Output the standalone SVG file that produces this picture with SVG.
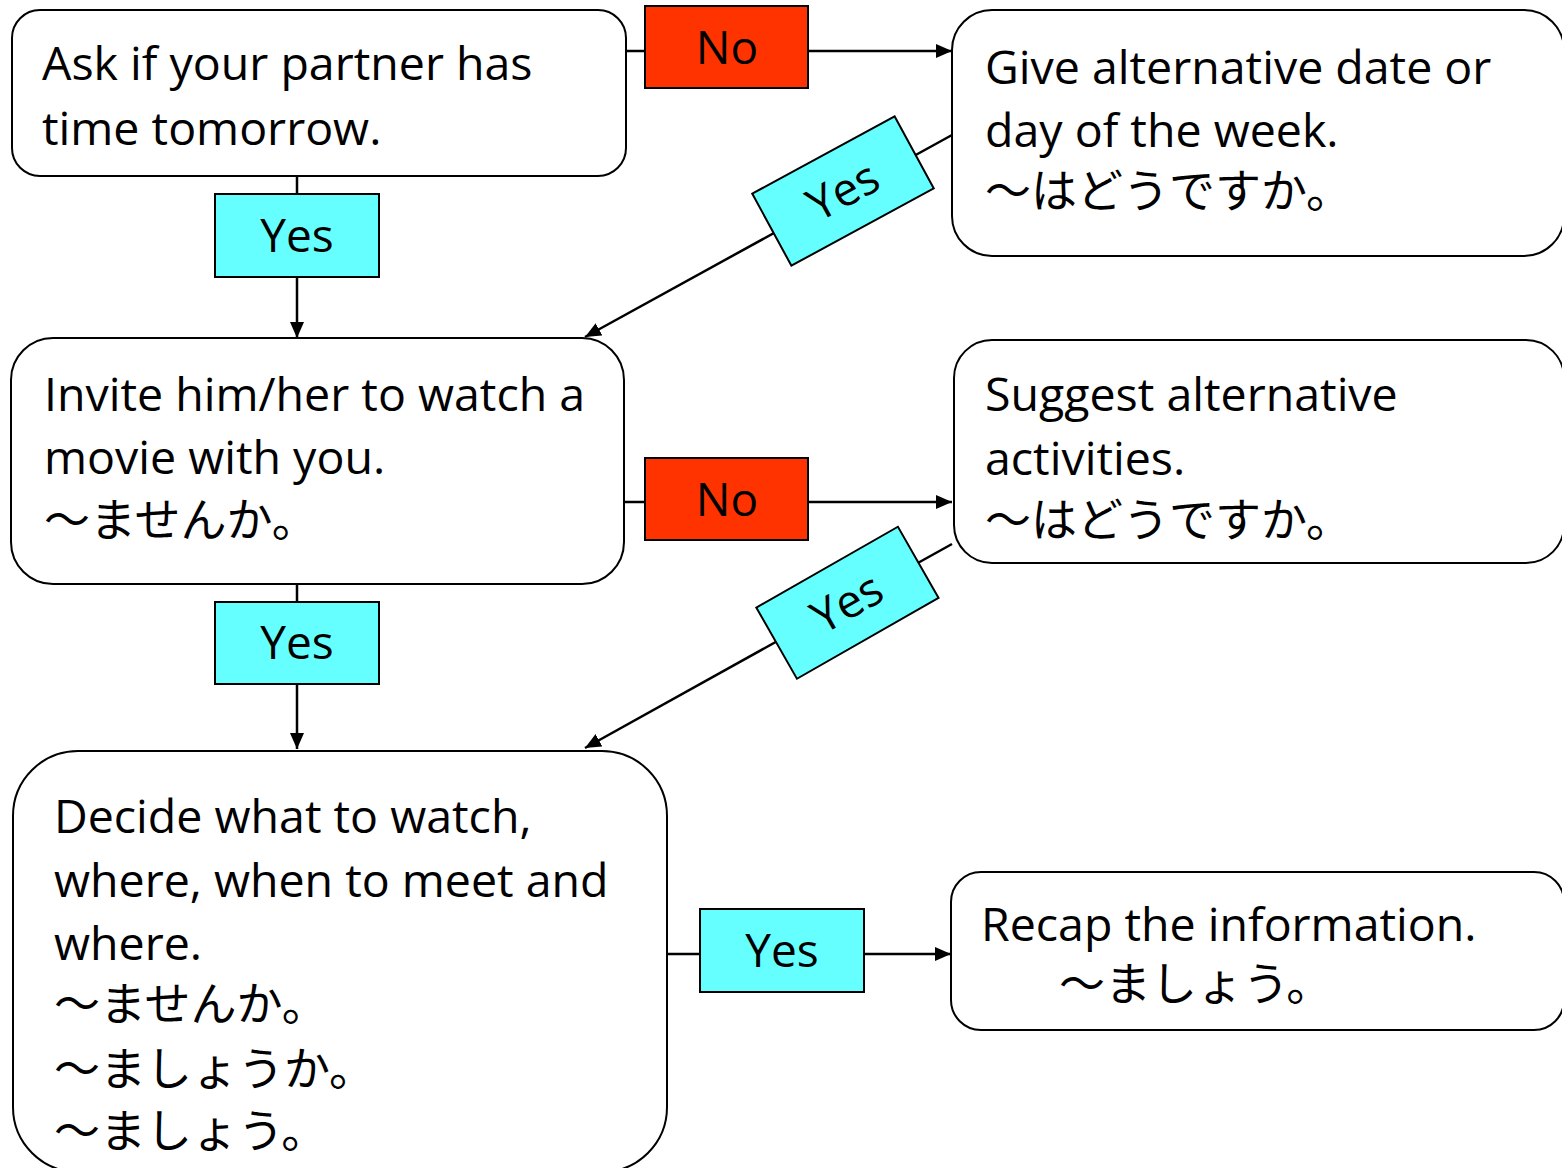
<svg xmlns="http://www.w3.org/2000/svg" width="1562" height="1168" viewBox="0 0 1562 1168">
<defs>
<style>
.node{fill:#fff;stroke:#000;stroke-width:2}
.no{fill:#FF3300;stroke:#000;stroke-width:2}
.yes{fill:#66FFFF;stroke:#000;stroke-width:2}
.conn{stroke:#000;stroke-width:2.5;fill:none}
.t{font-family:"Open Sans","Noto Sans CJK JP",sans-serif;font-size:46.5px;fill:#000}
.j{font-family:"Noto Sans CJK JP",sans-serif;font-size:46px;fill:#000}
.lbl{font-family:"Open Sans",sans-serif;font-size:46px;fill:#000;text-anchor:middle}
</style>
<marker id="arr" markerUnits="userSpaceOnUse" markerWidth="18" markerHeight="14" refX="16" refY="7" orient="auto">
<path d="M0,0 L16,7 L0,14 Z" fill="#000"/>
</marker>
</defs>
<rect width="1562" height="1168" fill="#fff"/>
<g id="connectors">
<line class="conn" x1="626" y1="51" x2="952" y2="51" marker-end="url(#arr)"/>
<line class="conn" x1="952" y1="135" x2="585" y2="337" marker-end="url(#arr)"/>
<line class="conn" x1="297" y1="176" x2="297" y2="338" marker-end="url(#arr)"/>
<line class="conn" x1="624" y1="502" x2="952" y2="502" marker-end="url(#arr)"/>
<line class="conn" x1="952" y1="544" x2="585" y2="748" marker-end="url(#arr)"/>
<line class="conn" x1="297" y1="584" x2="297" y2="749" marker-end="url(#arr)"/>
<line class="conn" x1="667" y1="954" x2="951" y2="954" marker-end="url(#arr)"/>
</g>
<g id="n1">
<rect class="node" x="12" y="10" width="614" height="166" rx="28"/>
<text class="t" x="42" y="80">Ask if your partner has</text>
<text class="t" x="42" y="145">time tomorrow.</text>
</g>
<g id="n2">
<rect class="node" x="952" y="10" width="612" height="246" rx="40"/>
<text class="t" x="985" y="84">Give alternative date or</text>
<text class="t" x="985" y="147">day of the week.</text>
<text class="j" x="985" y="207">〜はどうですか。</text>
</g>
<g id="n3">
<rect class="node" x="11" y="338" width="613" height="246" rx="42"/>
<text class="t" x="44" y="411">Invite him/her to watch a</text>
<text class="t" x="44" y="474">movie with you.</text>
<text class="j" x="44" y="536">〜ませんか。</text>
</g>
<g id="n4">
<rect class="node" x="954" y="340" width="610" height="223" rx="38"/>
<text class="t" x="985" y="411">Suggest alternative</text>
<text class="t" x="985" y="475">activities.</text>
<text class="j" x="985" y="536">〜はどうですか。</text>
</g>
<g id="n5">
<rect class="node" x="13" y="751" width="654" height="421" rx="65"/>
<text class="t" x="54" y="833">Decide what to watch,</text>
<text class="t" x="54" y="897">where, when to meet and</text>
<text class="t" x="54" y="960">where.</text>
<text class="j" x="54" y="1020">〜ませんか。</text>
<text class="j" x="54" y="1085">〜ましょうか。</text>
<text class="j" x="54" y="1147">〜ましょう。</text>
</g>
<g id="n6">
<rect class="node" x="951" y="872" width="613" height="158" rx="30"/>
<text class="t" x="981" y="941">Recap the information.</text>
<text class="j" x="1059" y="1000">〜ましょう。</text>
</g>
<g id="l-no1">
<rect class="no" x="645" y="6" width="163" height="82"/>
<text class="lbl" x="727" y="64">No</text>
</g>
<g id="l-no2">
<rect class="no" x="645" y="458" width="163" height="82"/>
<text class="lbl" x="727" y="516">No</text>
</g>
<g id="l-yes1">
<rect class="yes" x="215" y="194" width="164" height="83"/>
<text class="lbl" x="297" y="252">Yes</text>
</g>
<g id="l-yes2">
<rect class="yes" x="215" y="602" width="164" height="82"/>
<text class="lbl" x="297" y="659">Yes</text>
</g>
<g id="l-yes3">
<rect class="yes" x="700" y="909" width="164" height="83"/>
<text class="lbl" x="782" y="967">Yes</text>
</g>
<g id="l-yes4" transform="translate(843,191) rotate(-28.5)">
<rect class="yes" x="-81" y="-41" width="162" height="82"/>
<text class="lbl" x="0" y="16">Yes</text>
</g>
<g id="l-yes5" transform="translate(847,603) rotate(-29.7)">
<rect class="yes" x="-81" y="-41" width="163" height="82"/>
<text class="lbl" x="0" y="16">Yes</text>
</g>
</svg>
